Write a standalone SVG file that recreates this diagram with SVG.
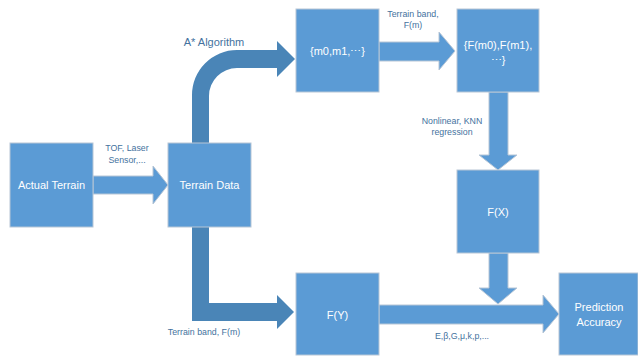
<svg xmlns="http://www.w3.org/2000/svg" width="638" height="356" viewBox="0 0 638 356">
<style>
.box{fill:#5b9bd5;stroke:#b7c6d6;stroke-width:1}
.bt{fill:#ffffff;font-family:"Liberation Sans",Arial,sans-serif;font-size:11px;text-anchor:middle}
.lb{fill:#44729e;font-family:"Liberation Sans",Arial,sans-serif;font-size:8.8px;text-anchor:middle}
.lbig{fill:#44729e;font-family:"Liberation Sans",Arial,sans-serif;font-size:11px;text-anchor:middle}
.ar{fill:#5b9bd5;stroke:#b7c6d6;stroke-width:1}
.ard{fill:#4a85b7;stroke:none}
</style>
<rect width="638" height="356" fill="#ffffff"/>
<g id="connectors">
<path class="ar" d="M93 176 L153 176 L153 166 L168 185 L153 204 L153 194 L93 194 Z"/>
<path class="ard" d="M192 143 L192 95 A45 45 0 0 1 237 50 L277 50 L277 41 L295 59 L277 77 L277 68 L237 68 A28 28 0 0 0 209 96 L209 143 Z"/>
<path class="ard" d="M192 227 L209 227 L209 303 L277 303 L277 295 L294 312 L277 329 L277 321 L192 321 Z"/>
<path class="ar" d="M379 42 L439 42 L439 32 L455 51 L439 70 L439 61 L379 61 Z"/>
<path class="ar" d="M489 92 L508 92 L508 155 L517 155 L498 170 L479 155 L489 155 Z"/>
<path class="ar" d="M489 253 L508 253 L508 288 L517 288 L498 304 L479 288 L489 288 Z"/>
<path class="ar" d="M379 305 L543 305 L543 295 L559 314 L543 333 L543 324 L379 324 Z"/>
<text class="lbig" x="214" y="46">A* Algorithm</text>
<text class="lb" x="127" y="151">TOF, Laser</text>
<text class="lb" x="127" y="163">Sensor,...</text>
<text class="lb" x="204" y="335">Terrain band, F(m)</text>
<text class="lb" x="413" y="17">Terrain band,</text>
<text class="lb" x="413" y="28">F(m)</text>
<text class="lb" x="452" y="124">Nonlinear, KNN</text>
<text class="lb" x="452" y="135">regression</text>
<text class="lb" x="462" y="339">E,β,G,μ,k,p,...</text>
</g>
<g id="actual-terrain"><rect class="box" x="10" y="143" width="83" height="84"/><text class="bt" x="51.5" y="189">Actual Terrain</text></g>
<g id="terrain-data"><rect class="box" x="168" y="143" width="83" height="84"/><text class="bt" x="209.5" y="189">Terrain Data</text></g>
<g id="m-set"><rect class="box" x="296" y="9" width="83" height="83"/><text class="bt" x="337.5" y="55">{m0,m1,⋯}</text></g>
<g id="fm-set"><rect class="box" x="457" y="9" width="82" height="83"/><text class="bt" x="498" y="49">{F(m0),F(m1),</text><text class="bt" x="498" y="64">⋯}</text></g>
<g id="fx"><rect class="box" x="457" y="170" width="82" height="83"/><text class="bt" x="498" y="216">F(X)</text></g>
<g id="fy"><rect class="box" x="296" y="273" width="83" height="82"/><text class="bt" x="337.5" y="319">F(Y)</text></g>
<g id="prediction"><rect class="box" x="559" y="273" width="79" height="82"/><text class="bt" x="599" y="311">Prediction</text><text class="bt" x="599" y="326">Accuracy</text></g>
</svg>
